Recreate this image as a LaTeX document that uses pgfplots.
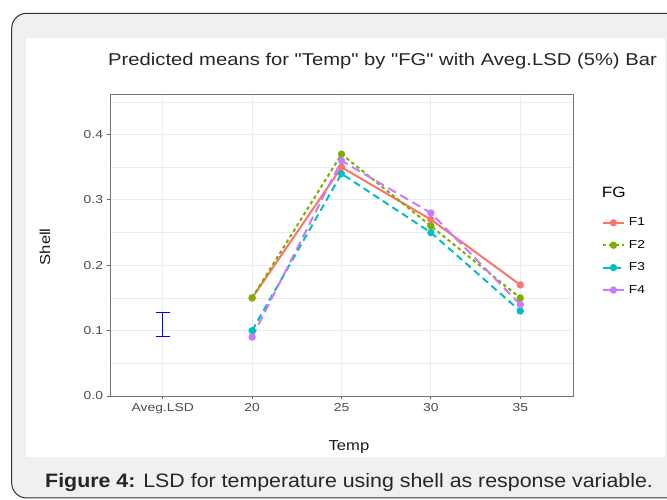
\documentclass[border=0pt]{standalone}
\usepackage{fontspec}
\setmainfont{Liberation Sans}
\newfontfamily\nolig{Liberation Sans}[Ligatures=TeXOff]
\usepackage{graphicx}
\usepackage{pgfplots}
\pgfplotsset{compat=1.18}
\definecolor{cF1}{HTML}{F8766D}
\definecolor{cF2}{HTML}{7CAE00}
\definecolor{cF3}{HTML}{00BFC4}
\definecolor{cF4}{HTML}{C77CFF}
\definecolor{framebg}{HTML}{EFF0F2}
\definecolor{gridc}{HTML}{EBEBEB}
\definecolor{tickc}{HTML}{4D4D4D}
\newcommand\tk[1]{\scalebox{1.2}[1]{#1}}
\begin{document}
\begin{tikzpicture}[x=1bp,y=1bp]
\useasboundingbox (0,0) rectangle (667,500);
\clip (0,0) rectangle (667,500);
\fill[white] (0,0) rectangle (667,500);
\draw[fill=framebg, draw=black!80, line width=1bp, rounded corners=15bp] (11.7,2) rectangle (720,486.7);
\fill[white] (26,43.3) rectangle (665,462.3);
\node[anchor=base west, inner sep=0pt, text=black!85] at (108,434.3) {\scalebox{1.18}[1]{\fontsize{17.2}{20}\nolig\selectfont Predicted means for "Temp" by "FG" with Aveg.LSD (5\%) Bar}};
\node[anchor=base west, inner sep=0pt, text=black!85] at (45,12.7) {\scalebox{1.1}[1]{\fontsize{19.5}{22}\selectfont\textbf{Figure 4:} LSD for temperature using shell as response variable.}};
\begin{axis}[
  at={(110bp,104bp)}, anchor=south west,
  scale only axis, width=463bp, height=302bp,
  xmin=-0.59, xmax=4.59, ymin=0, ymax=0.462,
  xtick={0,1,2,3,4},
  xticklabels={\tk{Aveg.LSD},\tk{20},\tk{25},\tk{30},\tk{35}},
  ytick={0,0.1,0.2,0.3,0.4},
  yticklabels={\tk{0.0},\tk{0.1},\tk{0.2},\tk{0.3},\tk{0.4}},
  minor ytick={0.05,0.15,0.25,0.35,0.45},
  tick align=outside, tick pos=left,
  major tick length=3.5bp, minor tick length=0pt,
  tick style={black!60, line width=0.8bp},
  ticklabel style={font=\fontsize{11.6}{14}\selectfont, text=tickc},
  grid=both,
  major grid style={gridc, line width=0.9bp},
  minor grid style={gridc, line width=0.5bp},
  axis line style={black!55, line width=0.8bp},
  xlabel={\scalebox{1.15}[1]{Temp}}, ylabel={\scalebox{1.15}[1]{Shell}},
  label style={font=\fontsize{14.5}{17}\selectfont, text=black!90},
  xlabel style={at={(axis description cs:0.516,-0.169)}, anchor=center},
  ylabel style={at={(axis description cs:-0.1404,0.494)}, anchor=center},
  legend style={at={(1.062,0.594)}, anchor=north west, draw=none, fill=none,
    font=\fontsize{11.5}{14}\selectfont, inner sep=0pt,
    row sep=10.4bp, nodes={inner sep=1bp, text height=8bp, text depth=2bp}},
  legend cell align=left,
  legend image code/.code={\draw[mark repeat=2,mark phase=2,#1] plot coordinates {(0bp,0bp) (10.5bp,0bp) (21bp,0bp)};},
  clip=false,
]
\addplot[cF1, line width=2bp, mark=*, mark size=2.6bp, mark options={solid}] coordinates {(1,0.15) (2,0.35) (3,0.27) (4,0.17)};
\addlegendentry{\hspace{3bp}\tk{F1}}
\addplot[cF2, line width=2bp, dash pattern=on 3.5bp off 3bp, mark=*, mark size=2.6bp, mark options={solid}] coordinates {(1,0.15) (2,0.37) (3,0.26) (4,0.15)};
\addlegendentry{\hspace{3bp}\tk{F2}}
\addplot[cF3, line width=2bp, dash pattern=on 7bp off 4.5bp, mark=*, mark size=2.6bp, mark options={solid}] coordinates {(1,0.10) (2,0.34) (3,0.25) (4,0.13)};
\addlegendentry{\hspace{3bp}\tk{F3}}
\addplot[cF4, line width=2bp, dash pattern=on 9bp off 5bp, mark=*, mark size=2.6bp, mark options={solid}] coordinates {(1,0.09) (2,0.36) (3,0.28) (4,0.14)};
\addlegendentry{\hspace{3bp}\tk{F4}}
\addplot[blue, line width=1.3bp, forget plot, mark=none,
  error bars/.cd, y dir=both, y explicit,
  error bar style={blue, line width=1.3bp},
  error mark options={rotate=90, mark size=7bp, line width=1.3bp, blue}]
  coordinates {(0,0.1095) +- (0,0.0185)};
\node[anchor=base west, inner sep=0pt, font=\fontsize{15}{18}\selectfont] at (axis description cs:1.062,0.657) {\scalebox{1.15}[1]{FG}};
\end{axis}
\end{tikzpicture}
\end{document}
